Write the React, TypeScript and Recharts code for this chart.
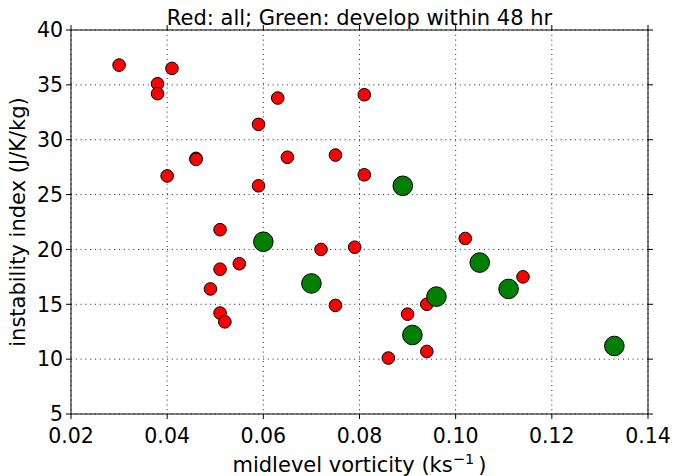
import React from 'react';
import { ScatterChart, Scatter, XAxis, YAxis, CartesianGrid, Label } from 'recharts';

// Red-only cases (x = midlevel vorticity, y = instability index)
const redX = [0.030, 0.041, 0.038, 0.038, 0.063, 0.081, 0.059, 0.046, 0.046, 0.065, 0.075, 0.040, 0.059, 0.081, 0.051, 0.072, 0.079, 0.055, 0.051, 0.049, 0.075, 0.051, 0.052, 0.102, 0.114, 0.094, 0.090, 0.094, 0.086];
const redY = [36.8, 36.5, 35.1, 34.2, 33.8, 34.1, 31.4, 28.3, 28.2, 28.4, 28.6, 26.7, 25.8, 26.8, 21.8, 20.0, 20.2, 18.7, 18.2, 16.4, 14.9, 14.2, 13.4, 21.0, 17.5, 15.0, 14.1, 10.7, 10.1];
// Cases that develop within 48 hr
const greenX = [0.089, 0.060, 0.070, 0.105, 0.111, 0.096, 0.091, 0.133];
const greenY = [25.8, 20.7, 16.9, 18.8, 16.4, 15.7, 12.2, 11.2];

const xTicks = [0.02, 0.04, 0.06, 0.08, 0.10, 0.12, 0.14];
const yTicks = [5, 10, 15, 20, 25, 30, 35, 40];

const titleText = 'Red: all; Green: develop within 48 hr';
const xLabelText = 'midlevel vorticity (ks';
const xLabelSup = '\u22121';
const yLabelText = 'instability index (J/K/kg)';

const greenData = greenX.map((x, i) => ({ x, y: greenY[i] }));
const allData = redX.map((x, i) => ({ x, y: redY[i] })).concat(greenData);

const FONT = '"DejaVu Sans", sans-serif';

const RedDot = (p: any) => (
  <circle cx={p.cx} cy={p.cy} r={6.3} fill="#ff0000" stroke="#000" strokeWidth={1} />
);
const GreenDot = (p: any) => (
  <circle cx={p.cx} cy={p.cy} r={9.8} fill="#007f00" stroke="#000" strokeWidth={1} />
);
const EmptyTick = () => <g />;

const TitleContent = (props: any) => {
  const vb = props.viewBox || {};
  return (
    <text x={vb.x + vb.width / 2} y={vb.y + 25} textAnchor="middle" fontSize={21} fontFamily={FONT} fill="#000">
      {titleText}
    </text>
  );
};

const XLabelContent = (props: any) => {
  const vb = props.viewBox || {};
  return (
    <text x={vb.x + vb.width / 2} y={vb.y + 58} textAnchor="middle" fontSize={21} fontFamily={FONT} fill="#000">
      {xLabelText}
      <tspan dy={-8} fontSize={14.5}>{xLabelSup}</tspan>
      <tspan dy={8}>{'\u2009)'}</tspan>
    </text>
  );
};

const YLabelContent = (props: any) => {
  const vb = props.viewBox || {};
  const x = vb.x + 25;
  const y = vb.y + vb.height / 2;
  return (
    <text x={x} y={y} textAnchor="middle" fontSize={21} fontFamily={FONT} fill="#000" transform={`rotate(-90, ${x}, ${y})`}>
      {yLabelText}
    </text>
  );
};

export default function App() {
  return (
    <div style={{ position: 'absolute', left: 0, top: 0, width: 674, height: 476, background: '#fff' }}>
      <ScatterChart width={674} height={476} margin={{ top: 0, right: 0, bottom: 0, left: 0 }} style={{ fontFamily: FONT }}>
        <CartesianGrid stroke="#222" strokeWidth={1} strokeDasharray="1 3.8" />
        <XAxis
          type="number"
          dataKey="x"
          domain={[0.02, 0.14]}
          ticks={xTicks}
          allowDataOverflow
          height={62}
          tickSize={5}
          tickMargin={9}
          tickFormatter={(v: number) => v.toFixed(2)}
          tick={{ fontSize: 20.5, fill: '#000', fontFamily: FONT }}
          axisLine={{ stroke: '#000' }}
          tickLine={{ stroke: '#000' }}
        >
          <Label content={XLabelContent} />
        </XAxis>
        <XAxis
          xAxisId="top"
          orientation="top"
          type="number"
          dataKey="x"
          domain={[0.02, 0.14]}
          ticks={xTicks}
          allowDataOverflow
          height={30}
          tickSize={5}
          tick={EmptyTick}
          axisLine={{ stroke: '#000' }}
          tickLine={{ stroke: '#000' }}
        >
          <Label content={TitleContent} />
        </XAxis>
        <YAxis
          type="number"
          dataKey="y"
          domain={[5, 40]}
          ticks={yTicks}
          allowDataOverflow
          width={71}
          tickSize={5}
          tickMargin={3}
          tick={{ fontSize: 20.5, fill: '#000', fontFamily: FONT }}
          axisLine={{ stroke: '#000' }}
          tickLine={{ stroke: '#000' }}
        >
          <Label content={YLabelContent} />
        </YAxis>
        <YAxis
          yAxisId="right"
          orientation="right"
          type="number"
          dataKey="y"
          domain={[5, 40]}
          ticks={yTicks}
          allowDataOverflow
          width={26}
          tickSize={5}
          tick={EmptyTick}
          axisLine={{ stroke: '#000' }}
          tickLine={{ stroke: '#000' }}
        />
        <Scatter data={allData} shape={RedDot} isAnimationActive={false} />
        <Scatter data={greenData} shape={GreenDot} isAnimationActive={false} />
      </ScatterChart>
    </div>
  );
}
